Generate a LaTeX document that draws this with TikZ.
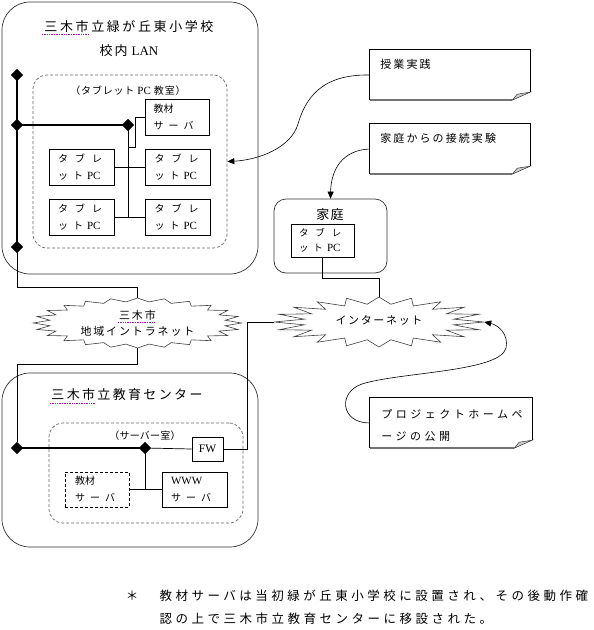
\documentclass[tikz,border=0pt]{standalone}
\usepackage{fontspec}
\setmainfont{Noto Sans CJK JP}
\newfontfamily\jp{Noto Sans CJK JP}
\newfontfamily\lat{Liberation Serif}
\usetikzlibrary{shapes.geometric,arrows.meta,calc}
\definecolor{smarttag}{RGB}{190,0,190}
\newcommand{\pcx}{{\lat\fontsize{11}{17}\selectfont PC}}
\begin{document}
\begin{tikzpicture}[x=1pt,y=-1pt,
  frame/.style={draw=black!80, line width=0.7pt, rounded corners=28pt, inner sep=0},
  roomframe/.style={draw=black!60, dash pattern=on 3pt off 2pt, line width=0.7pt, rounded corners=14pt, inner sep=0},
  box/.style={draw, line width=0.7pt, inner sep=0, align=left, fill=white},
  dbox/.style={box, dash pattern=on 3pt off 2pt},
  hub/.style={diamond, aspect=1, fill=black, minimum size=12pt, inner sep=0},
  bus/.style={line width=2.6pt},
  wire/.style={line width=0.7pt},
  arr/.style={line width=0.6pt, -{Triangle[length=7pt,width=6pt]}},
  callout/.style={draw=none, inner sep=0},
  cloudline/.style={draw=black!75, line width=0.6pt, fill=white},
  ttl/.style={font={\fontsize{13}{17}\selectfont\addfontfeature{LetterSpace=20}}},
  ctl/.style={font={\fontsize{11}{22}\selectfont\addfontfeature{LetterSpace=19}}},
  small/.style={font={\fontsize{10}{17}\selectfont}},
  tag/.style={smarttag, line width=0.6pt, dash pattern=on 0.8pt off 0.9pt}
]
\useasboundingbox (0,0) rectangle (594,630);
\fill[white] (0,0) rectangle (594,630);

% ---------- school ----------
\node[frame, minimum width=256pt, minimum height=272pt] (school) at (130,138) {};
\node[ttl] (schoolttl) at (129,27) {三木市立緑が丘東小学校};
\node[ttl, font={\fontsize{13}{17}\selectfont}] (lan) at (129,51) {校\hspace{2pt}内\hspace{4pt}{\lat LAN}};
\draw[tag] (42,34) -- (88,34);
\node[roomframe, minimum width=194pt, minimum height=173pt] (room) at (130,161.5) {};
\node[small, font={\fontsize{10}{12}\selectfont\addfontfeature{LetterSpace=8}}] (roomlbl) at (128,91) {（タブレット {\lat\fontsize{11}{12}\selectfont PC} 教室）};

\node[hub] (d1) at (17,75) {};
\node[hub] (d2) at (17,125) {};
\node[hub] (d3) at (128,125) {};
\node[hub] (d4) at (17,247) {};

\node[box, small, minimum width=64pt, minimum height=36pt, text width=47pt] (srv1) at (177,117) {教材\\サ\hspace{5pt}ー\hspace{5pt}バ};
\node[box, small, minimum width=65pt, minimum height=36pt, text width=47pt] (tab1) at (81.5,167) {タ\hspace{7pt}ブ\hspace{7pt}レ\\ッ\hspace{5pt}ト\hspace{4pt}\pcx};
\node[box, small, minimum width=65pt, minimum height=36pt, text width=47pt] (tab2) at (178,167) {タ\hspace{7pt}ブ\hspace{7pt}レ\\ッ\hspace{5pt}ト\hspace{4pt}\pcx};
\node[box, small, minimum width=65pt, minimum height=36pt, text width=47pt] (tab3) at (81.5,217) {タ\hspace{7pt}ブ\hspace{7pt}レ\\ッ\hspace{5pt}ト\hspace{4pt}\pcx};
\node[box, small, minimum width=65pt, minimum height=36pt, text width=47pt] (tab4) at (178,217) {タ\hspace{7pt}ブ\hspace{7pt}レ\\ッ\hspace{5pt}ト\hspace{4pt}\pcx};

\draw[wire] (d3.center) -- (d3 |- tab3.east);
\draw[wire] (srv1.west) -- ++(-9,0) -- ++(0,30) -- ++(-8,0);
\draw[wire] (tab1.east) -- (tab2.west);
\draw[wire] (tab3.east) -- (tab4.west);
\draw[bus] (d1.center) -- (d4.center);
\draw[bus] (d2.center) -- (d3.center);
\node[hub] at (d1) {};
\node[hub] at (d2) {};
\node[hub] at (d3) {};
\node[hub] at (d4) {};

% ---------- clouds ----------
\draw[cloudline] plot[samples=49, domain=0:360, variable=\t]
  ({137.5 + 104*(0.925+0.075*cos(24*\t))*cos(\t)}, {323 + 25*(0.925+0.075*cos(24*\t))*sin(\t)}) -- cycle;
\node[callout, minimum width=209pt, minimum height=50pt] (intra) at (137.5,323) {};
\node[ctl, font={\fontsize{11}{16}\selectfont\addfontfeature{LetterSpace=17}}, align=center] (intralbl) at (137.5,323) {三木市\\地域イントラネット};
\draw[tag] (118,322) -- (155,322);

\draw[cloudline] plot[samples=41, domain=0:360, variable=\t]
  ({379 + 105*(0.86+0.14*cos(20*\t))*cos(\t)}, {322 + 25*(0.86+0.14*cos(20*\t))*sin(\t)}) -- cycle;
\node[callout, minimum width=210pt, minimum height=50pt] (inet) at (379,322) {};
\node[font={\fontsize{11}{14}\selectfont\addfontfeature{LetterSpace=15}}] (inetlbl) at (379,320) {インターネット};

% ---------- home ----------
\node[draw=black!80, line width=0.7pt, rounded corners=12pt, minimum width=113pt, minimum height=74pt, inner sep=0] (home) at (330.5,236) {};
\node[font={\fontsize{13}{16}\selectfont\addfontfeature{LetterSpace=8}}] (homelbl) at (330,215) {家庭};
\node[box, font={\fontsize{9.5}{15}\selectfont}, minimum width=63pt, minimum height=33pt, text width=47pt] (htab) at (322.5,240.5) {タ\hspace{7pt}ブ\hspace{7pt}レ\\ッ\hspace{5pt}ト\hspace{4pt}\pcx};

% ---------- education centre ----------
\node[frame, minimum width=256pt, minimum height=174pt] (centre) at (130,460) {};
\node[ttl, font={\fontsize{13}{17}\selectfont\addfontfeature{LetterSpace=18}}] (centrettl) at (127,395) {三木市立教育センター};
\draw[tag] (50,403) -- (95,403);
\node[roomframe, minimum width=194pt, minimum height=100pt] (room2) at (146,473) {};
\node[font={\fontsize{10}{12}\selectfont\addfontfeature{LetterSpace=2}}] (room2lbl) at (145,436) {（サーバー室）};
\node[hub] (d5) at (17,448) {};
\node[hub] (d6) at (145,448) {};
\node[box, font={\lat\fontsize{11.5}{13}\selectfont}, align=center, minimum width=31pt, minimum height=24pt] (fw) at (207.5,449) {FW};
\node[dbox, small, minimum width=64pt, minimum height=35pt, text width=44pt] (srv2) at (97,489.5) {教材\\サ\hspace{5pt}ー\hspace{5pt}バ};
\node[box, small, minimum width=65pt, minimum height=35pt, text width=47pt] (www) at (194.5,489.5) {{\lat\fontsize{11}{17}\selectfont WWW}\\サ\hspace{5pt}ー\hspace{5pt}バ};
\draw[wire] (d6.center) -- (fw.west);
\draw[wire] (d6.center) -- (d6 |- www.west);
\draw[wire] (srv2.east) -- (www.west);
\draw[bus] (d5.center) -- (d6.center);
\node[hub] at (d5) {};
\node[hub] at (d6) {};

% ---------- network links ----------
\draw[wire] (d4.center) -- ++(0,40) -| (intra.north);
\draw[wire] (intra.south) -- ++(0,16) -| (d5.north);
\draw[wire] (htab.south) -- ++(0,21) -| (inet.north);
\draw[wire] (inet.west) -- ++(-26,0) |- (fw.east);

% ---------- callouts ----------
\foreach \c/\y/\w in {c1/75/160, c2/149/160, c3/423/162}{
  \node[callout, minimum width=\w pt, minimum height=50pt] (\c) at ({370+\w/2},\y) {};
  \draw[line width=0.7pt] (\c.south west) -- (\c.north west) -- (\c.north east) -- ($(\c.south east)+(0,-8)$);
  \draw[black!55, line width=1.5pt] (\c.south west) -- ($(\c.south east)+(-18,0)$);
  \filldraw[fill=black!20, draw=black!80, line width=0.5pt] ($(\c.south east)+(0,-8)$) -- ($(\c.south east)+(-18,0)$) -- ($(\c.south east)+(-13,-6)$) -- cycle;
}
\node[ctl, anchor=west] (c1txt) at ($(c1.north west)+(7,15)$) {授業実践};
\node[ctl, anchor=west] (c2txt) at ($(c2.north west)+(7,15)$) {家庭からの接続実験};
\node[ctl, font={\fontsize{11}{22}\selectfont\addfontfeature{LetterSpace=32}}, anchor=north west, align=left] (c3txt) at ($(c3.north west)+(8,8)$) {プロジェクトホームペ\\ージの公開};

\draw[arr] (c1.west) .. controls (320,74) and (305,100) .. (298,124) .. controls (291,148) and (258,160) .. (room.east);
\draw[arr] (c2.west) .. controls (342,150) and (331,170) .. (home.north);
\draw[arr] (c3.west) .. controls (340,423) and (338,392) .. (362,384) .. controls (400,372) and (500,372) .. (506,348) .. controls (509,334) and (498,325) .. (inet.east);

% ---------- footnote ----------
\node[font={\fontsize{12.5}{23}\selectfont}] (star) at (132,596) {＊};
\node[font={\fontsize{12.5}{23}\selectfont\addfontfeature{LetterSpace=28}}, anchor=north west, align=left] (fnote) at (156,586) {教材サーバは当初緑が丘東小学校に設置され、その後動作確\\認の上で三木市立教育センターに移設された。};
\end{tikzpicture}
\end{document}
